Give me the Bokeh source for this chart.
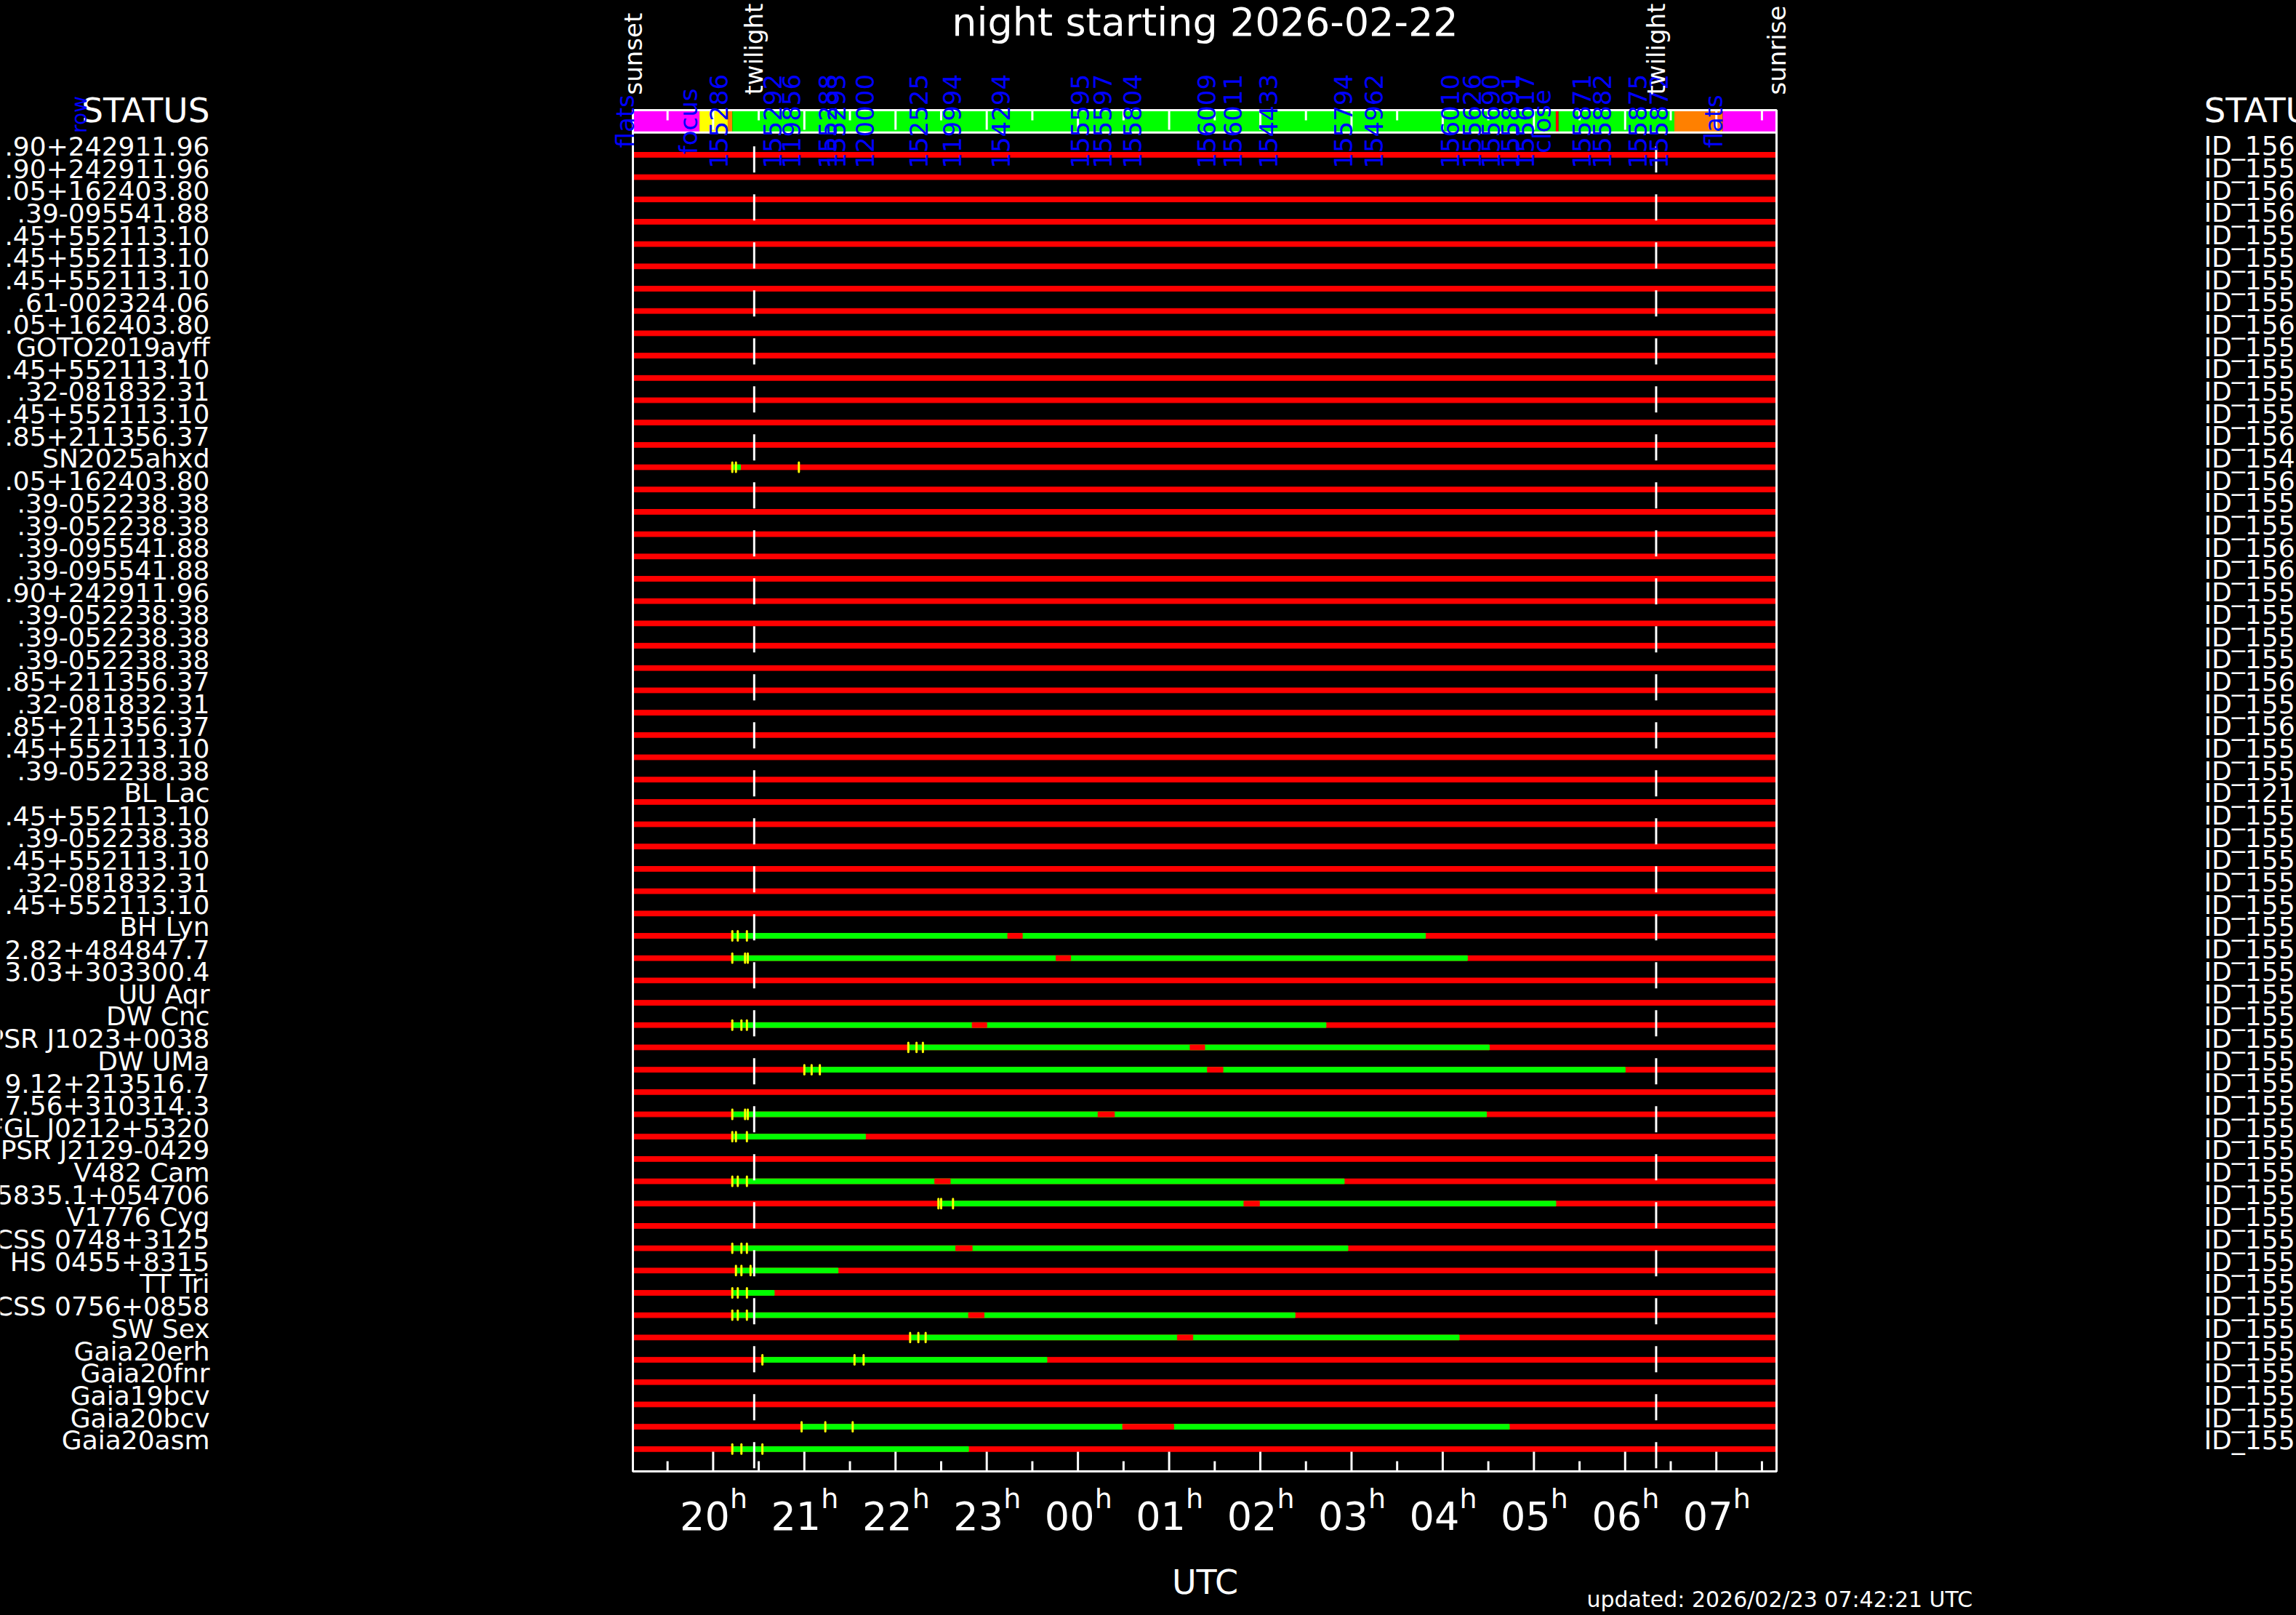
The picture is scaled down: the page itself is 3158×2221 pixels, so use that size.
import math
from bokeh.plotting import figure
from bokeh.models import Range1d
from bokeh.embed import file_html
from bokeh.resources import INLINE
from bokeh.core.properties import value

# ---------------- data ----------------
night_title = "night starting 2026-02-22"
updated_text = "updated: 2026/02/23 07:42:21 UTC"
axis_title = "UTC"
status_head = "STATUS"
row_head = "row"

sunset, sunrise = 19.12, 31.66            # hours UTC (24+ = next day)
twilight_eve, twilight_morn = 20.45, 30.34

hour_ticks = [20, 21, 22, 23, 24, 25, 26, 27, 28, 29, 30, 31]
hour_labels = ["20", "21", "22", "23", "00", "01", "02", "03", "04", "05",
               "06", "07"]
hour_unit = "h"
half_ticks = [19.5, 20.5, 21.5, 22.5, 23.5, 24.5, 25.5, 26.5, 27.5, 28.5,
              29.5, 30.5, 31.5]

target_names = [
    ".90+242911.96", ".90+242911.96", ".05+162403.80", ".39-095541.88",
    ".45+552113.10", ".45+552113.10", ".45+552113.10", ".61-002324.06",
    ".05+162403.80", "GOTO2019ayff", ".45+552113.10", ".32-081832.31",
    ".45+552113.10", ".85+211356.37", "SN2025ahxd", ".05+162403.80",
    ".39-052238.38", ".39-052238.38", ".39-095541.88", ".39-095541.88",
    ".90+242911.96", ".39-052238.38", ".39-052238.38", ".39-052238.38",
    ".85+211356.37", ".32-081832.31", ".85+211356.37", ".45+552113.10",
    ".39-052238.38", "BL Lac", ".45+552113.10", ".39-052238.38",
    ".45+552113.10", ".32-081832.31", ".45+552113.10", "BH Lyn",
    "2.82+484847.7", "3.03+303300.4", "UU Aqr", "DW Cnc",
    "PSR J1023+0038", "DW UMa", "9.12+213516.7", "7.56+310314.3",
    "4FGL J0212+5320", "PSR J2129-0429", "V482 Cam", "J155835.1+054706",
    "V1776 Cyg", "CSS 0748+3125", "HS 0455+8315", "TT Tri",
    "CSS 0756+0858", "SW Sex", "Gaia20erh", "Gaia20fnr", "Gaia19bcv",
    "Gaia20bcv", "Gaia20asm",
]
target_ids = [
    "ID_156", "ID_155", "ID_156", "ID_156", "ID_155", "ID_155", "ID_155",
    "ID_155", "ID_156", "ID_155", "ID_155", "ID_155", "ID_155", "ID_156",
    "ID_154", "ID_156", "ID_155", "ID_155", "ID_156", "ID_156", "ID_155",
    "ID_155", "ID_155", "ID_155", "ID_156", "ID_155", "ID_156", "ID_155",
    "ID_155", "ID_121",
] + ["ID_155"] * 29
rows = list(range(1, len(target_names) + 1))

# observable windows (green) per row, with interruption (red) inside
win_rows  = [15, 36, 37, 40, 41, 42, 44, 45, 47, 48, 50, 51, 52, 53, 54, 55, 58, 59]
win_start = [20.21, 20.21, 20.21, 20.21, 22.14, 21.00, 20.21, 20.21, 20.21,
             22.47, 20.21, 20.25, 20.21, 20.21, 22.16, 20.54, 20.97, 20.21]
win_end   = [20.30, 27.81, 28.27, 26.72, 28.51, 30.00, 28.48, 21.67, 26.92,
             29.24, 26.96, 21.37, 20.67, 26.38, 28.18, 23.66, 28.73, 22.80]
gap_rows  = [36, 37, 40, 41, 42, 44, 47, 48, 50, 53, 54, 58]
gap_start = [23.23, 23.76, 22.84, 25.23, 25.42, 24.22, 22.43, 25.82, 22.66,
             22.80, 25.09, 24.49]
gap_end   = [23.39, 23.92, 23.00, 25.39, 25.59, 24.40, 22.60, 25.99, 22.84,
             22.97, 25.26, 25.05]

# exposure markers (yellow)
tick_rows = [15, 15, 15,
             36, 36, 36, 37, 37, 37, 40, 40, 40, 41, 41, 41, 42, 42, 42,
             44, 44, 44, 45, 45, 45, 47, 47, 47, 48, 48, 48, 50, 50, 50,
             51, 51, 51, 52, 52, 52, 53, 53, 53, 54, 54, 54, 55, 55, 55,
             58, 58, 58, 59, 59, 59]
tick_times = [20.21, 20.25, 20.94,
              20.21, 20.27, 20.37, 20.21, 20.35, 20.38, 20.21, 20.31, 20.37,
              22.14, 22.23, 22.30, 21.00, 21.08, 21.17,
              20.21, 20.35, 20.38, 20.21, 20.25, 20.37, 20.21, 20.27, 20.37,
              22.47, 22.50, 22.63, 20.21, 20.31, 20.37,
              20.25, 20.31, 20.41, 20.21, 20.27, 20.37, 20.21, 20.27, 20.37,
              22.16, 22.25, 22.33, 20.54, 21.55, 21.65,
              20.97, 21.23, 21.53, 20.21, 20.31, 20.54]

# telescope status strip
status_start = [19.12, 19.85, 20.16, 20.21, 29.24, 29.27, 30.54, 31.07]
status_end   = [19.85, 20.16, 20.21, 29.24, 29.27, 30.54, 31.07, 31.66]
status_state = ["flats", "focus", "setup", "science", "fault", "science",
                "setup", "flats"]

# labels of executed blocks in the status strip
block_labels = ["flats", "focus", "155286", "155292", "119856", "155288",
                "155293", "120000", "152525", "119994", "154294", "155595",
                "155597", "155804", "156009", "156011", "154433", "155794",
                "154962", "156010", "155626", "155690", "155891", "155617",
                "close", "155871", "155882", "155875", "155872", "flats"]
block_times = [19.04, 19.73, 20.06, 20.65, 20.86, 21.26, 21.35, 21.66, 22.25,
               22.62, 23.15, 24.02, 24.27, 24.60, 25.41, 25.70, 26.09, 26.91,
               27.24, 28.08, 28.32, 28.53, 28.74, 28.90, 29.09, 29.52, 29.75,
               30.14, 30.37, 30.97]

event_names = ["sunset", "twilight", "twilight", "sunrise"]
event_times = [sunset, twilight_eve, twilight_morn, sunrise]

# ---------------- layout / styling ----------------
FONT = "DejaVu Sans"
state_colors = {"flats": "#ff00ff", "focus": "#ffff00", "setup": "#ff8000",
                "science": "#00ff00", "fault": "#ff0000"}
W, H = 3158, 2221
BL, BR, BT, BB = 870, 2443, 151, 2023          # box in pixels
NROW_SPAN = 61.0                                # header (-1..0) + rows (0..60)
kx = (BR - BL) / (sunrise - sunset)
ky = (BB - BT) / NROW_SPAN
X0 = sunset - BL / kx
X1 = sunrise + (W - BR) / kx
YTOP = -1 - BT / ky
YBOT = 60 + (H - BB) / ky
LABEL_RAISE = 12 / ky                           # row labels sit above their bar


def px2x(px):
    return X0 + px / kx


def px2y(py):
    return YTOP + py / ky


p = figure(width=W, height=H, output_backend="svg", toolbar_location=None,
           x_range=Range1d(X0, X1), y_range=Range1d(YBOT, YTOP),
           x_axis_location=None, y_axis_location=None, min_border=0,
           title_location=None)
p.background_fill_color = "black"
p.border_fill_color = "black"
p.outline_line_color = None
p.xgrid.visible = False
p.ygrid.visible = False


def txt(x, y, t, size, color="white", align="left", baseline="middle",
        angle=0.0):
    p.text(x=x, y=y, text=t, angle=angle, text_align=align,
           text_baseline=baseline, text_color=color,
           text_font=value(FONT), text_font_size=value(size))


# status strip
p.quad(left=status_start, right=status_end, bottom=0, top=-1,
       color=[state_colors[s] for s in status_state], line_width=0)

# row bars
p.hbar(y=rows, left=sunset, right=sunrise, height=0.22, color="#ff0000")
p.hbar(y=win_rows, left=win_start, right=win_end, height=0.22, color="#00ff00")
p.hbar(y=gap_rows, left=gap_start, right=gap_end, height=0.22, color="#ff0000")
p.segment(x0=tick_times, y0=[r - 0.21 for r in tick_rows], x1=tick_times,
          y1=[r + 0.21 for r in tick_rows], line_color="#ffff00",
          line_width=3, line_cap="round")

# twilight dashed lines
p.segment(x0=[twilight_eve, twilight_morn], y0=[0, 0],
          x1=[twilight_eve, twilight_morn], y1=[60, 60], line_color="white",
          line_width=3, line_dash="36 30", line_dash_offset=47)

# time ticks (top strip and bottom edge), drawn inside the box
maj_len, min_len = 27 / ky, 14 / ky
p.segment(x0=hour_ticks, y0=[-1] * len(hour_ticks), x1=hour_ticks,
          y1=[-1 + maj_len] * len(hour_ticks), line_color="white", line_width=3)
p.segment(x0=half_ticks, y0=[-1] * len(half_ticks), x1=half_ticks,
          y1=[-1 + min_len] * len(half_ticks), line_color="white", line_width=3)
p.segment(x0=hour_ticks, y0=[60] * len(hour_ticks), x1=hour_ticks,
          y1=[60 - maj_len] * len(hour_ticks), line_color="white", line_width=3)
p.segment(x0=half_ticks, y0=[60] * len(half_ticks), x1=half_ticks,
          y1=[60 - min_len] * len(half_ticks), line_color="white", line_width=3)

# box + header separator
p.segment(x0=[sunset], y0=[0], x1=[sunrise], y1=[0], line_color="white",
          line_width=3)
p.quad(left=[sunset], right=[sunrise], top=[-1], bottom=[60],
       fill_color=None, line_color="white", line_width=3)

# tick labels: digits with a raised "h" after them, the pair centred on the tick
txt([t - 11.5 / kx for t in hour_ticks], [px2y(2084)] * len(hour_ticks),
    hour_labels, "54px", align="center")
txt([t + 23 / kx for t in hour_ticks], [px2y(2060)] * len(hour_ticks),
    [hour_unit] * len(hour_ticks), "38px", align="left")
txt([px2x(1657)], [px2y(2175)], [axis_title], "46px", align="center")
txt([px2x(2182)], [px2y(2199)], [updated_text], "30px", align="left")
txt([px2x(1657)], [px2y(30)], [night_title], "54px", align="center")

# block labels in strip
txt(block_times, [-0.5] * len(block_times), block_labels, "34px",
    color="#0000ff", align="center", angle=math.pi / 2)
# events
txt(event_times, [px2y(130)] * len(event_times), event_names, "34px",
    align="left", baseline="alphabetic", angle=math.pi / 2)

# row labels
txt([px2x(288)] * len(rows), [r - LABEL_RAISE for r in rows], target_names,
    "36px", align="right")
txt([px2x(3031)] * len(rows), [r - LABEL_RAISE for r in rows], target_ids,
    "36px", align="left")
txt([px2x(288)], [px2y(151)], [status_head], "47px", align="right")
txt([px2x(3031)], [px2y(151)], [status_head], "47px", align="left")
txt([px2x(109)], [px2y(157)], [row_head], "28px", color="#0000ff",
    align="center", angle=math.pi / 2)

html = file_html(p, INLINE)
html = html.replace("<head>", "<head><style>html,body{background:#000;}</style>", 1)
open("out.html", "w").write(html)
